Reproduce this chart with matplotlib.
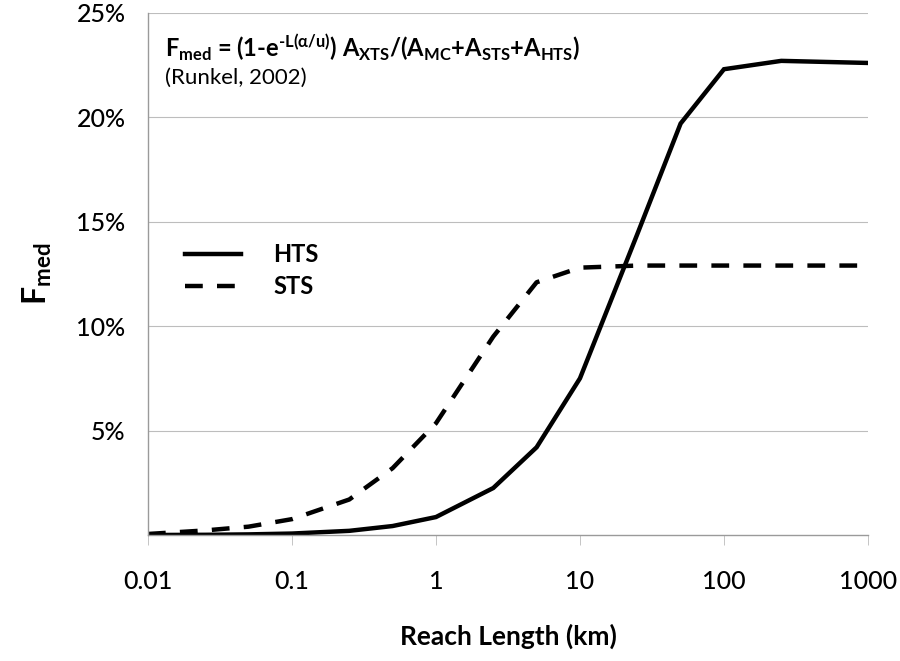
import matplotlib
matplotlib.use("Agg")
import matplotlib.pyplot as plt
from matplotlib.ticker import FixedLocator, NullFormatter

plt.rcParams['font.family'] = ['Lato', 'DejaVu Sans']
plt.rcParams['mathtext.fontset'] = 'custom'
plt.rcParams['mathtext.rm'] = 'Lato:weight=bold'
plt.rcParams['mathtext.bf'] = 'Lato:weight=bold'
plt.rcParams['mathtext.it'] = 'Lato:weight=bold'
plt.rcParams['mathtext.default'] = 'bf'

# reach length (km)
reach = [0.01, 0.025, 0.05, 0.1, 0.25, 0.5, 1, 2.5, 5, 10, 25, 50, 100, 250, 500, 1000]
# fraction of median travel time (%)
hts = [0.0, 0.01, 0.03, 0.07, 0.2, 0.43, 0.86, 2.25, 4.2, 7.5, 14.4, 19.7, 22.3, 22.7, 22.65, 22.6]
sts = [0.05, 0.22, 0.4, 0.76, 1.7, 3.2, 5.35, 9.5, 12.1, 12.8, 12.9, 12.9, 12.9, 12.9, 12.9, 12.9]

xticks = [0.01, 0.1, 1, 10, 100, 1000]
xticklabels = ['0.01', '0.1', '1', '10', '100', '1000']
yticks = [5, 10, 15, 20, 25]
yticklabels = ['5%', '10%', '15%', '20%', '25%']

fig = plt.figure(figsize=(9, 6.61), dpi=100)
ax = fig.add_axes([0.1644, 0.1906, 0.80, 0.790])

ax.plot(reach, hts, color='black', lw=3.2, solid_joinstyle='miter', label='HTS')
ax.plot(reach, sts, color='black', lw=3.2, dashes=(4.0, 3.2), label='STS')

ax.set_xscale('log')
ax.set_xlim(0.01, 1000)
ax.set_ylim(0, 25)

ax.xaxis.set_major_locator(FixedLocator(xticks))
ax.set_xticklabels(xticklabels, fontsize=18, fontweight='medium')
ax.xaxis.set_minor_formatter(NullFormatter())
ax.tick_params(axis='x', which='minor', length=0)
ax.tick_params(axis='x', which='major', length=7, width=0.6, color='#bbbbbb', pad=18)

ax.set_yticks(yticks)
ax.set_yticklabels(yticklabels, fontsize=18, fontweight='medium')
ax.tick_params(axis='y', length=0, pad=16)

ax.grid(axis='y', color='#bdbdbd', lw=0.8)
for side in ['top', 'right']:
    ax.spines[side].set_visible(False)
ax.spines['left'].set_color('#9a9a9a')
ax.spines['bottom'].set_color('#9a9a9a')
ax.spines['left'].set_linewidth(1.0)
ax.spines['bottom'].set_linewidth(1.0)

ax.set_xlabel('Reach Length (km)', fontsize=19, fontweight='bold', labelpad=22)
ax.set_ylabel(r'$F_{med}$', fontsize=23, labelpad=16)

ax.text(0.024, 0.965,
        r'$F_{med}\text{ = (1-}e^{\text{-}L(\alpha/u)}\text{) }A_{XTS}\text{/(}A_{MC}\text{+}A_{STS}\text{+}A_{HTS}\text{)}$',
        transform=ax.transAxes, fontsize=17, va='top', ha='left')
ax.text(0.024, 0.895, '(Runkel, 2002)', transform=ax.transAxes, fontsize=16, va='top', ha='left')

ax.legend(loc='upper left', bbox_to_anchor=(0.022, 0.6), frameon=False, handlelength=2.35,
          handletextpad=1.4, labelspacing=0.4, prop={'weight': 'bold', 'size': 17})

fig.savefig('out.png', dpi=100)
